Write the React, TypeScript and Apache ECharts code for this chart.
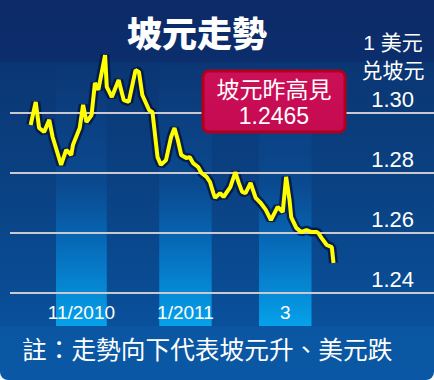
import React, { useEffect, useRef } from "react";
import * as echarts from "echarts";

// USD/SGD daily closes
const dates = [
  "2010-10-17", "2010-10-20", "2010-10-22", "2010-10-25", "2010-10-28", "2010-10-30",
  "2010-11-04", "2010-11-07", "2010-11-10", "2010-11-11", "2010-11-15", "2010-11-17",
  "2010-11-19", "2010-11-22", "2010-11-24", "2010-11-26", "2010-11-30",
  "2010-12-01", "2010-12-04", "2010-12-08", "2010-12-11", "2010-12-14", "2010-12-18",
  "2010-12-20", "2010-12-22", "2010-12-26", "2010-12-28", "2010-12-31",
  "2011-01-02", "2011-01-05", "2011-01-08", "2011-01-10", "2011-01-12", "2011-01-14",
  "2011-01-17", "2011-01-19", "2011-01-21", "2011-01-24", "2011-01-26", "2011-01-29",
  "2011-01-31", "2011-02-02", "2011-02-03", "2011-02-06", "2011-02-08", "2011-02-12",
  "2011-02-15", "2011-02-17", "2011-02-19", "2011-02-21", "2011-02-24", "2011-02-27",
  "2011-03-02", "2011-03-05", "2011-03-08", "2011-03-12", "2011-03-15", "2011-03-17",
  "2011-03-19", "2011-03-20", "2011-03-23", "2011-03-26", "2011-03-29", "2011-04-01",
  "2011-04-04", "2011-04-05", "2011-04-07", "2011-04-10", "2011-04-13", "2011-04-14",
];
const values = [
  1.296, 1.3037, 1.295, 1.2937, 1.2977, 1.292,
  1.2827, 1.2877, 1.286, 1.2893, 1.295, 1.3027,
  1.297, 1.2993, 1.31, 1.3077, 1.3193,
  1.3087, 1.3053, 1.311, 1.3043, 1.3037, 1.3143,
  1.3137, 1.306, 1.301, 1.3003, 1.2853,
  1.2827, 1.2843, 1.292, 1.295, 1.291, 1.286,
  1.285, 1.2853, 1.2833, 1.282, 1.28, 1.2787,
  1.277, 1.2733, 1.2717, 1.2733, 1.272, 1.2753,
  1.2803, 1.2767, 1.2737, 1.2733, 1.2767, 1.2717,
  1.27, 1.2677, 1.2643, 1.2687, 1.267, 1.2787,
  1.271, 1.2653, 1.2617, 1.2603, 1.261, 1.2603,
  1.2603, 1.26, 1.2583, 1.256, 1.2553, 1.25,
];

const tickValues = [1.24, 1.26, 1.28, 1.3];
const monthBandStarts = ["2010-11-01", "2011-01-01", "2011-03-01"];
const monthBandEnds = ["2010-12-01", "2011-02-01", "2011-04-01"];
const monthLabels = ["11/2010", "1/2011", "3"];

const titleText = "坡元走勢";
const unitLines = ["1 美元", "兑坡元"];
const noteTitle = "坡元昨高見";
const noteValue = "1.2465";
const footnote = "註：走勢向下代表坡元升、美元跌";

const DAY = 86400000;
const ts = (s: string) => new Date(s + "T00:00:00Z").getTime();

const CJK = '"Noto Sans CJK TC", "Noto Sans CJK SC", sans-serif';
const LATIN = '"Liberation Sans", "Noto Sans CJK TC", sans-serif';

export default function App() {
  const ref = useRef<HTMLDivElement>(null);

  useEffect(() => {
    document.body.style.margin = "0";
    if (!ref.current) return;
    const chart = echarts.init(ref.current, null, { renderer: "svg" });

    const nov1 = ts("2010-11-01");
    const xMin = nov1 - 27.2 * DAY;
    const xMax = nov1 + 223.4 * DAY;
    const lineData = dates.map((d, i) => [ts(d), values[i]]);

    const option: any = {
      animation: false,
      grid: { left: 10, right: 0, top: 23, bottom: 27 },
      xAxis: { type: "time", min: xMin, max: xMax, show: false },
      yAxis: { type: "value", min: 1.22, max: 1.33, show: false },
      graphic: [
        {
          type: "rect",
          z: -10,
          shape: { x: 0, y: 0, width: 434, height: 380, r: [0, 0, 8, 8] },
          style: {
            fill: new echarts.graphic.LinearGradient(0, 0, 0, 1, [
              { offset: 0, color: "#0c2a67" },
              { offset: 0.162, color: "#0c2e6c" },
              { offset: 0.165, color: "#0b3674" },
              { offset: 0.5, color: "#0a4283" },
              { offset: 0.857, color: "#09509b" },
              { offset: 0.86, color: "#0a56a2" },
              { offset: 1, color: "#0a58a5" },
            ]),
          },
        },
        {
          type: "text",
          z: 50,
          style: {
            text: titleText,
            x: 197,
            y: 31,
            align: "center",
            verticalAlign: "middle",
            fill: "#ffffff",
            font: `900 35px ${CJK}`,
          },
        },
        {
          type: "text",
          z: 50,
          style: {
            text: unitLines[0],
            x: 393,
            y: 42,
            align: "center",
            verticalAlign: "middle",
            lineHeight: 22,
            fill: "#ffffff",
            font: `21px ${LATIN}`,
          },
        },
        {
          type: "text",
          z: 50,
          style: {
            text: unitLines[1],
            x: 393,
            y: 70,
            align: "center",
            verticalAlign: "middle",
            lineHeight: 22,
            fill: "#ffffff",
            font: `21px ${LATIN}`,
          },
        },
        {
          type: "group",
          z: 60,
          x: 203,
          y: 71,
          children: [
            {
              type: "rect",
              z: 60,
              shape: { x: 0, y: 0, width: 142, height: 61, r: 6 },
              style: {
                fill: new echarts.graphic.LinearGradient(0, 0, 0, 1, [
                  { offset: 0, color: "#cc1058" },
                  { offset: 1, color: "#c40a50" },
                ]),
                stroke: "#b0001e",
                lineWidth: 3,
              },
            },
            {
              type: "text",
              z: 61,
              style: {
                text: noteTitle,
                x: 71,
                y: 17,
                align: "center",
                verticalAlign: "middle",
                lineHeight: 23,
                fill: "#ffffff",
                font: `23px ${CJK}`,
              },
            },
            {
              type: "text",
              z: 61,
              style: {
                text: noteValue,
                x: 71,
                y: 45,
                align: "center",
                verticalAlign: "middle",
                lineHeight: 23,
                fill: "#ffffff",
                font: `23px ${LATIN}`,
              },
            },
          ],
        },
        {
          type: "text",
          z: 50,
          style: {
            text: footnote,
            x: 22,
            y: 348,
            verticalAlign: "middle",
            fill: "#ffffff",
            font: `24.7px ${CJK}`,
          },
        },
      ],
      series: [
        {
          type: "line",
          data: [],
          z: 1,
          silent: true,
          markArea: {
            silent: true,
            data: monthBandStarts.map((s, i) => [
              {
                name: monthLabels[i],
                xAxis: ts(s),
                yAxis: 1.229,
                itemStyle: {
                  color: new echarts.graphic.LinearGradient(0, 0, 0, 1, [
                    { offset: 0, color: "rgba(20,90,170,0.0)" },
                    { offset: 0.45, color: "rgba(10,90,170,0.3)" },
                    { offset: 0.7, color: "rgba(6,115,195,0.85)" },
                    { offset: 1, color: "#05a2ea" },
                  ]),
                },
              },
              { xAxis: ts(monthBandEnds[i]), yAxis: 1.317 },
            ]),
            label: {
              show: true,
              position: "insideBottom",
              distance: 4,
              color: "#ffffff",
              fontFamily: '"Liberation Sans Narrow", "Liberation Sans", sans-serif',
              fontSize: 19,
            },
          },
          markLine: {
            silent: true,
            symbol: "none",
            data: tickValues.map((v) => ({ yAxis: v })),
            lineStyle: { color: "#c9c9cf", width: 2, type: "solid" },
            label: {
              show: true,
              position: "insideEndTop",
              distance: 3,
              padding: [0, 17, 0, 0],
              formatter: (p: any) => Number(p.value).toFixed(2),
              color: "#ffffff",
              fontFamily: LATIN,
              fontSize: 22,
            },
          },
        },
        {
          type: "line",
          z: 4,
          silent: true,
          data: lineData,
          showSymbol: false,
          symbol: "none",
          lineStyle: { color: "rgba(4,16,58,0.75)", width: 9 },
        },
        {
          type: "line",
          z: 5,
          data: lineData,
          showSymbol: false,
          symbol: "none",
          lineStyle: { color: "#ffff00", width: 4 },
        },
      ],
    };

    chart.setOption(option);
    return () => chart.dispose();
  }, []);

  return <div ref={ref} style={{ width: 434, height: 380 }} />;
}
